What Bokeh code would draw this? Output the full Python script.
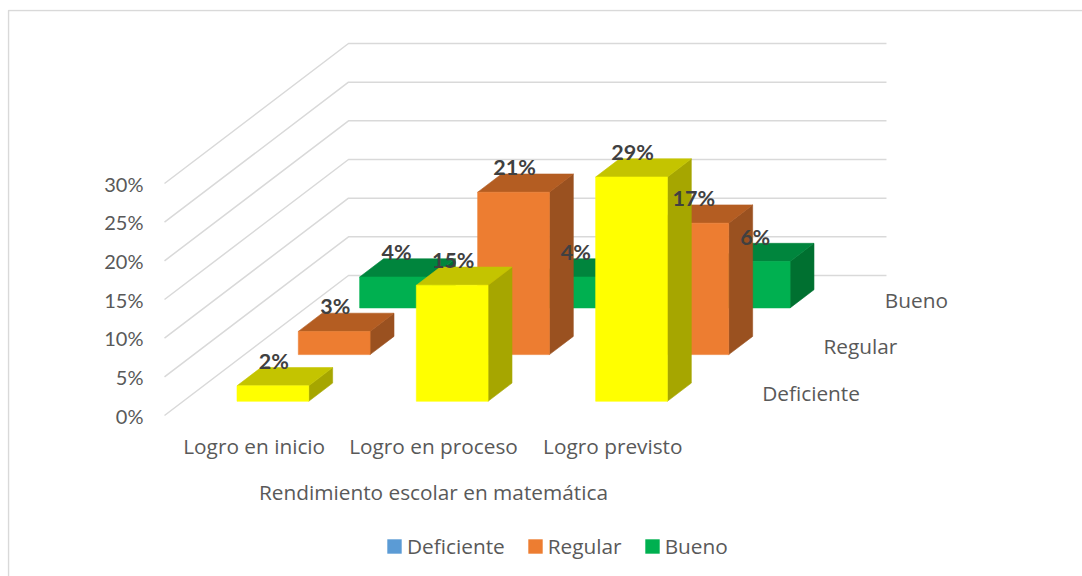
from bokeh.plotting import figure
from bokeh.models import Range1d, ColumnDataSource, FixedTicker, PrintfTickFormatter, Legend, LegendItem
from bokeh.core.properties import value
from bokeh.embed import file_html
from bokeh.resources import INLINE

categories = ["Logro en inicio", "Logro en proceso", "Logro previsto"]
series_names = ["Deficiente", "Regular", "Bueno"]
deficiente = [2, 15, 29]
regular = [3, 21, 17]
bueno = [4, 4, 6]
tick_values = [0, 5, 10, 15, 20, 25, 30]

FONT = "Open Sans"
NUM_FONT = "Lato"
WALL = "#D9D9D9"
TXT = "#595959"
LBL = "#404040"
SIZE = "20.8px"
LEGEND_COLORS = ["#5B9BD5", "#ED7D31", "#00B050"]
FACE = [
    ("#FFFF00", "#C4C400", "#A6A600"),
    ("#ED7D31", "#B45D22", "#9A5120"),
    ("#00B050", "#00853D", "#007030"),
]

# oblique projection: px per category / per percent / per series of depth
PX_C, PX_V = 179.33, 7.733
DX, DY = 61.33, 46.67
X0, Y0 = 164.0, 415.0        # position of the front-left floor corner
FRAME_L, FRAME_R, FRAME_T, FRAME_B = 7, 1082, 9, 576


def px(c, d):
    return c + d * DX / PX_C


def py(v, d):
    return v + d * DY / PX_V


xr = Range1d((FRAME_L - X0) / PX_C, (FRAME_R - X0) / PX_C)
yr = Range1d((Y0 - FRAME_B) / PX_V, (Y0 - FRAME_T) / PX_V)
p = figure(
    width=1082, height=576, output_backend="svg", toolbar_location=None,
    x_range=xr, y_range=yr,
    x_axis_location=None, min_border_left=FRAME_L, min_border_right=0,
    min_border_top=FRAME_T, min_border_bottom=0,
)
p.outline_line_color = None
p.xgrid.visible = False
p.ygrid.visible = False
p.background_fill_color = "white"

ax = p.yaxis[0]
ax.ticker = FixedTicker(ticks=tick_values)
ax.formatter = PrintfTickFormatter(format="%d%%")
ax.axis_line_color = None
ax.major_tick_line_color = None
ax.minor_tick_line_color = None
ax.major_label_standoff = FRAME_L - 149
ax.major_label_text_font = NUM_FONT
ax.major_label_text_font_size = "20px"
ax.major_label_text_color = TXT

# chart-area frame: left and top edges
p.line(x=[xr.start + 1 / PX_C, xr.start + 1 / PX_C, xr.end],
       y=[yr.start, yr.end - 1 / PX_V, yr.end - 1 / PX_V],
       line_color=WALL, line_width=1.5)

# walls
n = len(categories)
m = len(series_names)
p.multi_line(
    xs=[[px(0, 0), px(0, m), px(n, m)] for _ in tick_values],
    ys=[[py(v, 0), py(v, m), py(v, m)] for v in tick_values],
    line_color=WALL, line_width=1.5,
)

# bars: back series first
values = [deficiente, regular, bueno]
xs, ys, colors = [], [], []
BAR_C, BAR_D = 0.3, 0.305
for s in reversed(range(m)):
    for i in range(n):
        v = values[s][i]
        c0, c1 = i + BAR_C, i + 1 - BAR_C
        d0, d1 = s + BAR_D, s + 1 - BAR_D
        front = [(c0, d0, 0), (c1, d0, 0), (c1, d0, v), (c0, d0, v)]
        top = [(c0, d0, v), (c1, d0, v), (c1, d1, v), (c0, d1, v)]
        side = [(c1, d0, 0), (c1, d1, 0), (c1, d1, v), (c1, d0, v)]
        for face, col in zip((side, top, front), (FACE[s][2], FACE[s][1], FACE[s][0])):
            xs.append([px(a, d) for a, d, _ in face])
            ys.append([py(b, d) for _, d, b in face])
            colors.append(col)
p.patches(xs="xs", ys="ys", fill_color="color", line_color="color", line_width=0.6,
          source=ColumnDataSource(dict(xs=xs, ys=ys, color=colors)))

# value labels
lx, ly, lt = [], [], []
for s in reversed(range(m)):
    for i in range(n):
        v = values[s][i]
        lx.append(px(i + 0.5, s + BAR_D))
        ly.append(py(v, s + BAR_D))
        lt.append(f"{v}%")
p.text(x="x", y="y", text="t", source=ColumnDataSource(dict(x=lx, y=ly, t=lt)),
       text_font=value(NUM_FONT), text_font_style="bold", text_font_size=value("21.5px"),
       text_color=LBL, text_align="center", text_baseline="middle", y_offset=-25, x_offset=1)

# category labels
p.text(x=[px(i + 0.5, 0) for i in range(n)], y=[0] * n, text=categories,
       text_font=value(FONT), text_font_size=value(SIZE), text_color=TXT,
       text_align="center", text_baseline="middle", y_offset=30)

# series labels on the depth axis
p.text(x=[px(n, s + 0.5) for s in range(m)], y=[py(0, s + 0.5) for s in range(m)],
       text=series_names, text_font=value(FONT), text_font_size=value(SIZE),
       text_color=TXT, text_align="left", text_baseline="middle", x_offset=29, y_offset=1)

# axis title
p.text(x=[n / 2], y=[0], text=["Rendimiento escolar en matemática"],
       text_font=value(FONT), text_font_size=value(SIZE), text_color=TXT,
       text_align="center", text_baseline="middle", y_offset=76)

# legend (swatches come from off-range quads)
items = []
for name, col in zip(series_names, LEGEND_COLORS):
    r = p.quad(left=[-9], right=[-8.9], bottom=[-99], top=[-98], fill_color=col, line_color=None)
    items.append(LegendItem(label=name, renderers=[r]))
leg = Legend(items=items, orientation="horizontal", location=(378, 16), padding=0, margin=0,
             spacing=21, glyph_width=18, glyph_height=18, label_standoff=4,
             label_text_font=FONT, label_text_font_size=SIZE, label_text_color=TXT,
             background_fill_alpha=0, border_line_color=None)
p.add_layout(leg, "center")

open("out.html", "w").write(file_html(p, INLINE))
